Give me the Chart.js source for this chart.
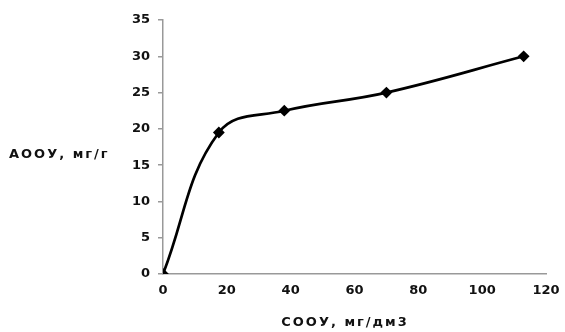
<!DOCTYPE html>
<html>
<head>
<meta charset="utf-8">
<script src="https://cdn.jsdelivr.net/npm/chart.js@4"></script>
<style>
  html, body { margin: 0; padding: 0; background: #fff; }
  #wrap { position: relative; width: 565px; height: 332px; }
</style>
</head>
<body>
<div id="wrap"><canvas id="c" width="565" height="332"></canvas></div>
<script>
const xValues = [0, 17.5, 38, 70, 113];
const yValues = [0, 19.5, 22.5, 25, 30];
const xTitle = 'СООУ, мг/дм3';
const yTitle = 'АООУ, мг/г';
const xTicks = [0, 20, 40, 60, 80, 100, 120];
const yTicks = [0, 5, 10, 15, 20, 25, 30, 35];

const FONT = '"DejaVu Sans", Verdana, sans-serif';

const titlesPlugin = {
  id: 'axisTitles',
  afterDraw(chart) {
    const ctx = chart.ctx;
    ctx.save();
    ctx.font = 'bold 13px ' + FONT;
    ctx.fillStyle = '#111';
    ctx.textBaseline = 'middle';
    try { ctx.letterSpacing = '2px'; } catch (e) {}
    ctx.textAlign = 'left';
    ctx.fillText(yTitle, 9, 155);
    ctx.textAlign = 'center';
    ctx.fillText(xTitle, 345, 323);
    ctx.restore();
  }
};

new Chart(document.getElementById('c'), {
  type: 'line',
  data: {
    datasets: [{
      data: xValues.map((x, i) => ({ x: x, y: yValues[i] })),
      borderColor: '#000',
      backgroundColor: '#000',
      borderWidth: 2.7,
      tension: 0.4,
      pointStyle: 'rectRot',
      pointRadius: 4,
      pointBackgroundColor: '#000',
      pointBorderColor: '#000',
      fill: false
    }]
  },
  options: {
    responsive: false,
    animation: false,
    layout: { padding: { left: 113, top: 20, right: 19, bottom: 0 } },
    plugins: { legend: { display: false }, tooltip: { enabled: false } },
    scales: {
      x: {
        type: 'linear',
        min: 0, max: 120,
        afterBuildTicks(s) { s.ticks = xTicks.map(v => ({ value: v })); },
        afterFit(s) { s.height = 58; s.paddingRight = 0; s.paddingLeft = 0; },
        grid: { display: true, drawOnChartArea: false, drawTicks: false },
        border: { color: '#999', width: 1.5 },
        ticks: { color: '#111', padding: 9, maxRotation: 0, font: { family: FONT, size: 13, weight: 'bold' } }
      },
      y: {
        type: 'linear',
        min: 0, max: 35,
        afterBuildTicks(s) { s.ticks = yTicks.map(v => ({ value: v })); },
        afterFit(s) { s.width = 50; },
        grid: { display: true, drawOnChartArea: false, drawTicks: true, tickLength: 5, color: '#999', lineWidth: 1.5 },
        border: { color: '#999', width: 1.5 },
        ticks: { color: '#111', padding: 8, font: { family: FONT, size: 13, weight: 'bold' } }
      }
    }
  },
  plugins: [titlesPlugin]
});
</script>
</body>
</html>
